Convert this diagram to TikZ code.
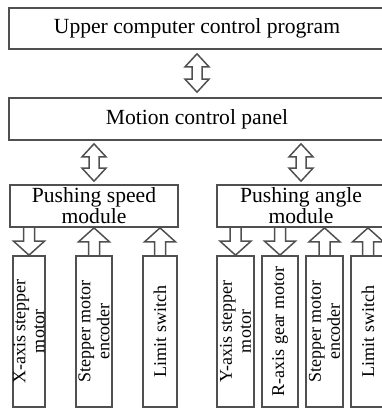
\documentclass[tikz,border=0pt]{standalone}
\usepackage{fontspec}
\setmainfont{Liberation Serif}
\usetikzlibrary{calc}
\definecolor{linegray}{HTML}{505050}

\tikzset{
  box/.style={draw=linegray, line width=1.7pt, inner sep=0pt, align=center,
    font=\fontsize{21.6}{21}\selectfont},
  unit/.style={box, rotate=90, minimum width=151pt,
    font=\fontsize{18}{19}\selectfont},
  blk/.style={draw=linegray, line width=1.5pt, line join=miter},
}

\newcommand{\onearrow}[2]{%
  \draw[blk] let \p1=(#1), \p2=(#2), \n1={(\y2-\y1)/abs(\y2-\y1)} in
    (\x1-5.5pt,\y1) -- (\x1-5.5pt,\y2-14pt*\n1) -- (\x1-15.5pt,\y2-14pt*\n1) -- (\x1,\y2)
    -- (\x1+15.5pt,\y2-14pt*\n1) -- (\x1+5.5pt,\y2-14pt*\n1) -- (\x1+5.5pt,\y1);}
\newcommand{\twoarrow}[2]{%
  \draw[blk] let \p1=(#1), \p2=(#2) in
    (\x1,\y1) -- (\x1+12pt,\y1-13pt) -- (\x1+5pt,\y1-13pt) -- (\x1+5pt,\y2+13pt)
    -- (\x1+12pt,\y2+13pt) -- (\x1,\y2) -- (\x1-12pt,\y2+13pt) -- (\x1-5pt,\y2+13pt)
    -- (\x1-5pt,\y1-13pt) -- (\x1-12pt,\y1-13pt) -- cycle;}

\begin{document}
\begin{tikzpicture}[x=1pt, y=-1pt]
  \useasboundingbox (0,0) rectangle (382,410);

  \node[box, minimum width=376pt, minimum height=41pt] (upc) at (197,28.5) {Upper computer control program};
  \node[box, minimum width=376pt, minimum height=42pt] (mcp) at (197,119) {Motion control panel};
  \node[box, minimum width=168pt, minimum height=42pt] (spd) at (94,206) {Pushing speed\\module};
  \node[box, minimum width=168pt, minimum height=42pt] (ang) at (301,206) {Pushing angle\\module};

  \node[unit, minimum height=32pt] (xm) at (29,331.5) {X-axis stepper\\motor};
  \node[unit, minimum height=36pt] (enc1) at (94,331.5) {Stepper motor\\encoder};
  \node[unit, minimum height=34pt] (lim1) at (160,331.5) {Limit switch};
  \node[unit, minimum height=37pt] (ym) at (235.5,331.5) {Y-axis stepper\\motor};
  \node[unit, minimum height=36pt] (rm) at (280,331.5) {R-axis gear motor};
  \node[unit, minimum height=37pt] (enc2) at (324.5,331.5) {Stepper motor\\encoder};
  \node[unit, minimum height=34pt] (lim2) at (368,331.5) {Limit switch};

  \twoarrow{$(upc.south)+(0,4)$}{$(mcp.north)-(0,5)$}
  \twoarrow{$(mcp.south -| spd.north)+(0,3)$}{$(spd.north)-(0,3)$}
  \twoarrow{$(mcp.south -| ang.north)+(0,3)$}{$(ang.north)-(0,3)$}

  \onearrow{spd.south -| xm.east}{xm.east}
  \onearrow{enc1.east}{enc1.east |- spd.south}
  \onearrow{lim1.east}{lim1.east |- spd.south}
  \onearrow{ang.south -| ym.east}{ym.east}
  \onearrow{ang.south -| rm.east}{rm.east}
  \onearrow{enc2.east}{enc2.east |- ang.south}
  \onearrow{lim2.east}{lim2.east |- ang.south}
\end{tikzpicture}
\end{document}
